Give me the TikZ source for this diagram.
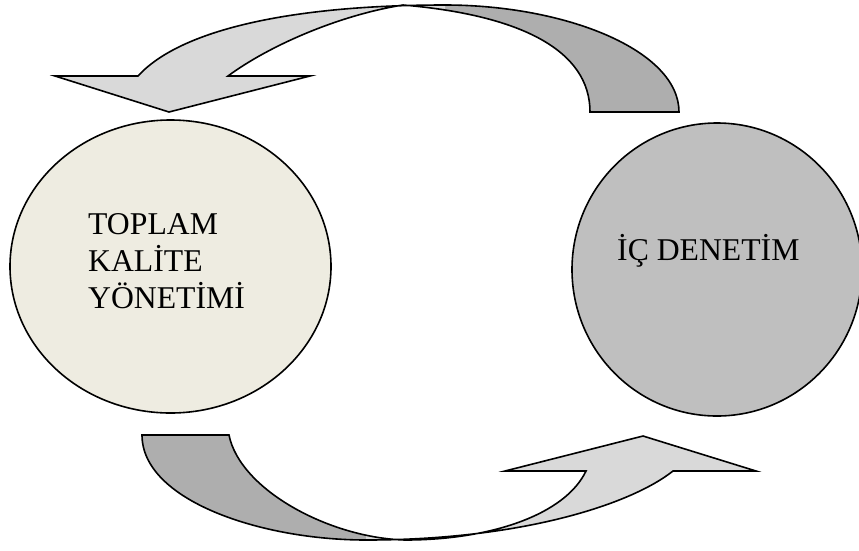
\documentclass[tikz,border=0pt]{standalone}
\usepackage{fontspec}
\setmainfont{Liberation Serif}
\usetikzlibrary{shapes.geometric}
\definecolor{tkmfill}{HTML}{EEECE1}
\definecolor{icfill}{HTML}{BFBFBF}
\definecolor{arrowlight}{HTML}{D9D9D9}
\definecolor{arrowdark}{HTML}{AEAEAE}
\begin{document}
\begin{tikzpicture}[x=1pt,y=-1pt,
  circ/.style={ellipse, draw=black, line width=1.6pt, inner sep=0pt},
  outline/.style={draw=black, line width=1.6pt, line join=miter},
  lbl/.style={font=\fontsize{31.7}{37}\selectfont, inner sep=0pt, align=left}]
\useasboundingbox (0,0) rectangle (859,550);
% circles
\node[circ, fill=tkmfill, minimum width=321pt, minimum height=293pt] (tkm) at (170.5,266.5) {};
\node[circ, fill=icfill, minimum width=290pt, minimum height=293pt] (ic) at (717,269.5) {};
\node[lbl, anchor=north west] (tkmtext) at (88,213) {TOPLAM\\KALİTE\\YÖNETİMİ};
\node[lbl, anchor=base west] (ictext) at (617,260) {İÇ DENETİM};
% top curved arrow
\fill[arrowdark] (403,5) -- (445,5) .. controls (565,5) and (679,50) .. (679,112) -- (590,112) .. controls (590,50) and (520,15) .. (403,5) -- cycle;
\fill[arrowlight] (55,76) -- (138,76) .. controls (180,30) and (290,5) .. (445,5) -- (445,9) -- (403,5) .. controls (340,15) and (270,45) .. (228,76) -- (310,76) -- (169,112) -- cycle;
\draw[outline] (55,76) -- (138,76) .. controls (180,30) and (290,5) .. (445,5) .. controls (565,5) and (679,50) .. (679,112) -- (590,112) .. controls (590,50) and (520,15) .. (403,5) .. controls (340,15) and (270,45) .. (228,76) -- (310,76) -- (169,112) -- cycle;
% bottom curved arrow
\fill[arrowdark] (142,435) -- (229,435) .. controls (240,490) and (330,538) .. (405,540) -- (366,540) .. controls (260,540) and (142,500) .. (142,435) -- cycle;
\fill[arrowlight] (505,471) -- (586,471) .. controls (565,515) and (490,540) .. (405,540) -- (366,535.5) -- (366,540) .. controls (520,540) and (630,505) .. (673,471) -- (756,471) -- (643,436) -- cycle;
\draw[outline] (142,435) -- (229,435) .. controls (240,490) and (330,538) .. (405,540) .. controls (490,540) and (565,515) .. (586,471) -- (505,471) -- (643,436) -- (756,471) -- (673,471) .. controls (630,505) and (520,540) .. (366,540) .. controls (260,540) and (142,500) .. (142,435) -- cycle;
\end{tikzpicture}
\end{document}
